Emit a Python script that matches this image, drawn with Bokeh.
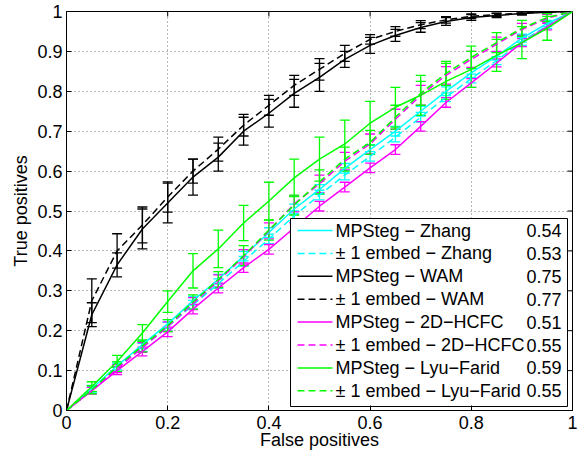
import numpy as np
from bokeh.plotting import figure
from bokeh.models import Whisker, TeeHead, ColumnDataSource, FixedTicker, Range1d
from bokeh.core.properties import value
from bokeh.embed import file_html
from bokeh.resources import INLINE

# ---------------- data ----------------
fp = [0, 0.05, 0.1, 0.15, 0.2, 0.25, 0.3, 0.35, 0.4, 0.45, 0.5,
      0.55, 0.6, 0.65, 0.7, 0.75, 0.8, 0.85, 0.9, 0.95, 1]

zhang_mp = [0, 0.055, 0.112, 0.165, 0.217, 0.275, 0.329, 0.387, 0.446, 0.505, 0.554,
            0.607, 0.654, 0.700, 0.750, 0.800, 0.846, 0.888, 0.933, 0.970, 1]
zhang_mp_err = [0, 0.008, 0.010, 0.010, 0.011, 0.011, 0.012, 0.012, 0.012, 0.012, 0.012,
                0.012, 0.012, 0.012, 0.012, 0.011, 0.011, 0.010, 0.010, 0.008, 0]
zhang_pm = [0, 0.052, 0.107, 0.158, 0.210, 0.265, 0.318, 0.374, 0.430, 0.488, 0.540,
            0.590, 0.637, 0.685, 0.735, 0.785, 0.832, 0.877, 0.925, 0.965, 1]
zhang_pm_err = [0, 0.008, 0.010, 0.010, 0.011, 0.011, 0.012, 0.012, 0.012, 0.012, 0.012,
                0.012, 0.012, 0.012, 0.012, 0.011, 0.011, 0.010, 0.010, 0.008, 0]

wam_mp = [0, 0.240, 0.365, 0.455, 0.520, 0.585, 0.635, 0.700, 0.745, 0.795, 0.835,
          0.880, 0.915, 0.940, 0.960, 0.975, 0.985, 0.990, 0.995, 0.998, 1]
wam_mp_err = [0, 0.030, 0.030, 0.050, 0.050, 0.045, 0.035, 0.035, 0.035, 0.035, 0.035,
              0.020, 0.020, 0.015, 0.012, 0.010, 0.007, 0.005, 0.004, 0.002, 0]
wam_pm = [0, 0.275, 0.400, 0.465, 0.535, 0.600, 0.655, 0.715, 0.765, 0.815, 0.855,
          0.895, 0.930, 0.950, 0.967, 0.979, 0.988, 0.992, 0.996, 0.999, 1]
wam_pm_err = [0, 0.055, 0.043, 0.045, 0.038, 0.030, 0.030, 0.027, 0.025, 0.025, 0.027,
              0.020, 0.012, 0.012, 0.010, 0.008, 0.006, 0.004, 0.003, 0.002, 0]

hcfc_mp = [0, 0.050, 0.100, 0.148, 0.197, 0.254, 0.307, 0.358, 0.404, 0.458, 0.512,
           0.560, 0.608, 0.654, 0.712, 0.772, 0.821, 0.871, 0.922, 0.962, 1]
hcfc_mp_err = [0, 0.008, 0.010, 0.011, 0.012, 0.012, 0.012, 0.012, 0.012, 0.012, 0.012,
               0.012, 0.012, 0.012, 0.012, 0.012, 0.011, 0.010, 0.010, 0.008, 0]
hcfc_pm = [0, 0.050, 0.105, 0.158, 0.210, 0.268, 0.325, 0.385, 0.450, 0.518, 0.568,
           0.625, 0.668, 0.730, 0.790, 0.840, 0.880, 0.918, 0.955, 0.983, 1]
hcfc_pm_err = [0, 0.008, 0.010, 0.012, 0.012, 0.015, 0.015, 0.018, 0.020, 0.020, 0.022,
               0.022, 0.025, 0.025, 0.025, 0.022, 0.020, 0.018, 0.015, 0.010, 0]

lyu_mp = [0, 0.060, 0.123, 0.194, 0.273, 0.350, 0.405, 0.470, 0.525, 0.583, 0.630,
          0.668, 0.720, 0.760, 0.790, 0.825, 0.855, 0.890, 0.922, 0.958, 1]
lyu_mp_err = [0, 0.012, 0.015, 0.021, 0.027, 0.043, 0.047, 0.044, 0.047, 0.047, 0.055,
              0.060, 0.055, 0.050, 0.050, 0.045, 0.045, 0.040, 0.040, 0.030, 0]
lyu_pm = [0, 0.052, 0.110, 0.162, 0.213, 0.272, 0.328, 0.388, 0.452, 0.515, 0.573,
          0.630, 0.672, 0.735, 0.795, 0.845, 0.885, 0.922, 0.958, 0.985, 1]
lyu_pm_err = [0, 0.010, 0.012, 0.015, 0.015, 0.018, 0.020, 0.025, 0.025, 0.025, 0.030,
              0.030, 0.030, 0.030, 0.030, 0.030, 0.028, 0.025, 0.020, 0.010, 0]

legend_names = ["MPSteg \u2212 Zhang", "\u00b1 1 embed \u2212 Zhang",
                "MPSteg \u2212 WAM", "\u00b1 1 embed \u2212 WAM",
                "MPSteg \u2212 2D\u2212HCFC", "\u00b1 1 embed \u2212 2D\u2212HCFC",
                "MPSteg \u2212 Lyu\u2212Farid", "\u00b1 1 embed \u2212 Lyu\u2212Farid"]
legend_auc = ["0.54", "0.53", "0.75", "0.77", "0.51", "0.55", "0.59", "0.55"]

x_ticks = [0, 0.2, 0.4, 0.6, 0.8, 1]
x_tick_labels = ["0", "0.2", "0.4", "0.6", "0.8", "1"]
y_ticks = [0, 0.1, 0.2, 0.3, 0.4, 0.5, 0.6, 0.7, 0.8, 0.9, 1]
y_tick_labels = ["0", "0.1", "0.2", "0.3", "0.4", "0.5", "0.6", "0.7", "0.8", "0.9", "1"]

# ---------------- styling ----------------
FONT = "Liberation Sans"
FS = "18px"
CYAN, BLACK, MAGENTA, GREEN = "#00ffff", "#000000", "#ff00ff", "#00ff00"
DASH = "7 4"
LW = 1.5
FW, FH = 506.0, 399.0   # frame size in px (used for legend / tick layout)

series = [
    (zhang_mp, zhang_mp_err, CYAN, "solid"),
    (zhang_pm, zhang_pm_err, CYAN, DASH),
    (wam_mp, wam_mp_err, BLACK, "solid"),
    (wam_pm, wam_pm_err, BLACK, DASH),
    (hcfc_mp, hcfc_mp_err, MAGENTA, "solid"),
    (hcfc_pm, hcfc_pm_err, MAGENTA, DASH),
    (lyu_mp, lyu_mp_err, GREEN, "solid"),
    (lyu_pm, lyu_pm_err, GREEN, DASH),
]

p = figure(width=588, height=455, x_range=Range1d(0, 1), y_range=Range1d(0, 1),
           output_backend="svg", toolbar_location=None,
           min_border_left=66, min_border_right=16, min_border_top=11, min_border_bottom=45)
p.background_fill_color = "white"
p.border_fill_color = "white"
p.outline_line_color = "black"
p.outline_line_width = 1

for ax, ticks, labels in ((p.xaxis[0], x_ticks, x_tick_labels), (p.yaxis[0], y_ticks, y_tick_labels)):
    ax.ticker = FixedTicker(ticks=ticks)
    ax.major_label_overrides = {t: l for t, l in zip(ticks, labels)}
    ax.major_label_text_font = FONT
    ax.major_label_text_font_size = FS
    ax.major_label_text_color = "black"
    ax.axis_label_text_font = FONT
    ax.axis_label_text_font_size = FS
    ax.axis_label_text_font_style = "normal"
    ax.axis_label_text_color = "black"
    ax.major_tick_in = 5
    ax.major_tick_out = 0
    ax.minor_tick_line_color = None
    ax.axis_line_color = "black"
    ax.major_tick_line_color = "black"

p.xaxis[0].axis_label = "False positives"
p.yaxis[0].axis_label = "True positives"
p.xaxis[0].major_label_standoff = 5
p.xaxis[0].axis_label_standoff = -2
p.yaxis[0].major_label_standoff = 4
p.yaxis[0].axis_label_standoff = 3

p.xgrid.ticker = FixedTicker(ticks=x_ticks)
p.ygrid.ticker = FixedTicker(ticks=y_ticks)
for g in (p.xgrid[0], p.ygrid[0]):
    g.grid_line_color = "#707070"
    g.grid_line_dash = "1 3"
    g.grid_line_width = 1

# inward ticks on the top and right edges (box on)
p.segment(x0=x_ticks, y0=[1] * len(x_ticks), x1=x_ticks, y1=[1 - 5 / FH] * len(x_ticks),
          line_color="black", line_width=1)
p.segment(x0=[1] * len(y_ticks), y0=y_ticks, x1=[1 - 5 / FW] * len(y_ticks), y1=y_ticks,
          line_color="black", line_width=1)

# ---------------- curves + error bars ----------------
for ys, err, col, dash in series:
    ya = np.array(ys[1:-1])
    ea = np.array(err[1:-1])
    src = ColumnDataSource(dict(x=fp[1:-1], lo=ya - ea, hi=ya + ea))
    w = Whisker(source=src, base="x", lower="lo", upper="hi",
                line_color=col, line_width=1.3,
                upper_head=TeeHead(size=10, line_color=col, line_width=1.3),
                lower_head=TeeHead(size=10, line_color=col, line_width=1.3))
    p.add_layout(w)
for ys, err, col, dash in series:
    p.line(fp, ys, line_color=col, line_width=LW, line_dash=dash)

# ---------------- legend (drawn in data space of the axes) ----------------
box_l, box_r = 224 / FW, 501 / FW
box_t, box_b = 1 - 207 / FH, 1 - 395 / FH
row0, drow = 219 / FH, 22.9 / FH
rows_y = [1 - (row0 + i * drow) for i in range(len(legend_names))]
p.quad(left=box_l, right=box_r, top=box_t, bottom=box_b,
       fill_color="white", line_color="black", line_width=1)
for i, (ys, err, col, dash) in enumerate(series):
    p.line([231 / FW, 266 / FW], [rows_y[i], rows_y[i]], line_color=col,
           line_width=LW, line_dash=dash)
p.text(x=[269 / FW] * len(legend_names), y=rows_y, text=legend_names,
       text_font=value(FONT), text_font_size=FS, text_baseline="middle",
       text_align="left", text_color="black")
p.text(x=[460 / FW] * len(legend_auc), y=rows_y, text=legend_auc,
       text_font=value(FONT), text_font_size=FS, text_baseline="middle",
       text_align="left", text_color="black")

open("out.html", "w").write(file_html(p, INLINE))
